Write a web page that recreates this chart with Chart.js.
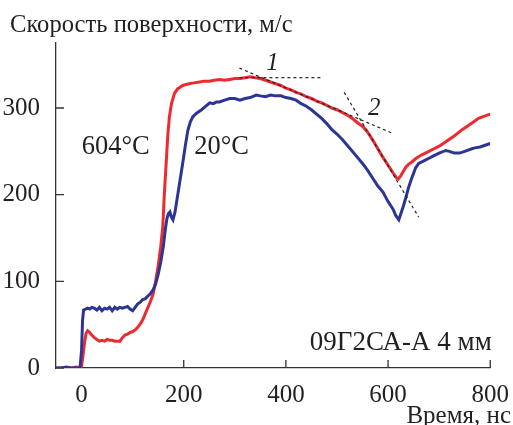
<!DOCTYPE html>
<html>
<head>
<meta charset="utf-8">
<script src="https://cdn.jsdelivr.net/npm/chart.js@4/dist/chart.umd.min.js"></script>
<style>
  html, body { margin: 0; padding: 0; background: #fff; }
  #wrap { width: 513px; height: 425px; }
</style>
</head>
<body>
<div id="wrap"><canvas id="chart" width="513" height="425"></canvas></div>
<script>
// time (ns), surface velocity (m/s)
const red604 = [
  [-50,0],[-40,0],[-30,0],[-20,0],[-10,1],[-2,0],[0,2],[3,15],[6,30],[9,40],[12,43],[16,41],[20,38],
  [25,35],[30,33],[35,31],[40,32],[45,31],[50,33],[55,32],[60,32],[65,31],[70,31],[75,31],[80,35],
  [85,38],[90,39],[95,41],[100,42],[105,44],[110,47],[115,51],[120,56],[125,63],[130,70],[135,77],
  [140,85],[145,100],[150,118],[155,140],[159,163],[162,200],[166,240],[169,270],[172,290],[176,305],
  [182,317],[188,322],[198,326],[210,328],[220,329],[231,330],[240,331],[250,331],[260,332],
  [270,333],[280,332],[290,333],[300,334],[310,334],[320,335],[330,336],[340,335],[350,334],[360,332],
  [370,330],[380,328],[390,326],[400,323],[410,321],[420,318],[430,316],[440,313],[450,311],[460,308],
  [470,306],[480,303],[490,300],[500,298],[510,295],[520,292],[530,288],[540,283],[550,279],[560,272],
  [570,263],[580,253],[590,243],[600,234],[610,225],[617,219],[620,218],[625,222],[630,227],[635,232],
  [640,235],[647,238],[655,242],[666,246],[680,250],[690,253],[700,256],[713,261],[720,264],[730,268],
  [745,275],[755,279],[765,283],[777,288],[790,291],[800,293]
];
const blue20 = [
  [-50,0],[-40,0],[-30,1],[-20,0],[-10,0],[-3,0],[0,20],[2,55],[4,67],[8,68],[12,69],[16,68],[20,70],
  [25,69],[30,67],[35,70],[40,66],[45,69],[50,68],[55,70],[60,66],[65,70],[70,68],[75,70],[80,69],
  [85,70],[90,71],[95,68],[100,66],[105,70],[110,74],[115,76],[120,79],[125,80],[130,83],[135,86],
  [140,90],[145,97],[150,108],[155,122],[160,140],[164,160],[167,172],[170,178],[173,180],[176,174],
  [179,171],[183,180],[187,195],[191,210],[195,225],[199,240],[203,256],[208,274],[213,284],[218,290],
  [225,294],[235,298],[245,303],[251,306],[258,305],[264,307],[270,307],[280,309],
  [290,311],[300,311],[310,309],[320,311],[330,312],[342,315],[350,314],[360,313],[370,315],[380,314],
  [390,314],[400,312],[410,311],[420,309],[430,305],[440,302],[450,298],[460,293],[470,288],[480,282],
  [490,275],[500,270],[510,264],[520,257],[530,250],[540,243],[550,236],[560,228],[570,219],[580,210],
  [590,203],[600,192],[610,183],[615,176],[621,171],[625,178],[630,187],[635,197],[640,208],[645,217],
  [654,231],[660,236],[670,239],[680,242],[690,245],[700,248],[713,251],[720,250],[730,248],[740,248],
  [750,250],[764,253],[770,254],[780,255],[790,257],[800,259]
];
// dashed tangent lines
const plateauLine = [[309,335],[469,335]];
const tangent1 = [[309,346],[608,271]];
const tangent2 = [[514,318],[660,174]];

const xTicks = [0, 200, 400, 600, 800];
const yTicks = [0, 100, 200, 300];

// text labels in data coords (baseline position)
const notes = [
  { text: "604°C", x: 67, y: 247, size: 26.5, align: "center", italic: false },
  { text: "20°C", x: 274, y: 247, size: 26.5, align: "center", italic: false },
  { text: "1", x: 374, y: 344, size: 25, align: "center", italic: true },
  { text: "2", x: 573, y: 292, size: 25, align: "center", italic: true },
  { text: "09Г2СА-А 4 мм", x: 803, y: 21, size: 27, align: "right", italic: false }
];

const FONT = "'Liberation Serif', 'Times New Roman', serif";
const INK = "#231f20";

const toXY = arr => arr.map(p => ({ x: p[0], y: p[1] }));

const dashed = data => ({
  data: toXY(data),
  borderColor: "#222",
  borderWidth: 1.2,
  borderDash: [3, 3],
  pointRadius: 0
});

const extras = {
  id: "extras",
  beforeDatasetsDraw(chart) {
    const ctx = chart.ctx;
    const xs = chart.scales.x, ys = chart.scales.y;
    ctx.save();
    ctx.strokeStyle = "#333";
    ctx.lineWidth = 1.3;
    ctx.beginPath();
    xTicks.forEach(v => {
      const px = xs.getPixelForValue(v);
      ctx.moveTo(px, ys.bottom);
      ctx.lineTo(px, ys.bottom - 8);
    });
    yTicks.forEach(v => {
      const py = ys.getPixelForValue(v);
      ctx.moveTo(xs.left, py);
      ctx.lineTo(xs.left + 8, py);
    });
    ctx.stroke();
    ctx.restore();
  },
  afterDraw(chart) {
    const ctx = chart.ctx;
    const xs = chart.scales.x, ys = chart.scales.y;
    ctx.save();
    ctx.fillStyle = INK;
    ctx.textBaseline = "alphabetic";
    notes.forEach(n => {
      ctx.font = (n.italic ? "italic " : "") + n.size + "px " + FONT;
      ctx.textAlign = n.align;
      ctx.fillText(n.text, xs.getPixelForValue(n.x), ys.getPixelForValue(n.y));
    });
    ctx.font = "24.6px " + FONT;
    ctx.textAlign = "left";
    ctx.fillText("Скорость поверхности, м/с", 10, 32);
    ctx.font = "25px " + FONT;
    ctx.textAlign = "right";
    ctx.fillText("Время, нс", 511, 423);
    ctx.restore();
  }
};

new Chart(document.getElementById("chart"), {
  type: "line",
  data: {
    datasets: [
      dashed(plateauLine),
      dashed(tangent1),
      dashed(tangent2),
      { label: "20°C", data: toXY(blue20), borderColor: "#2c3593", borderWidth: 3, pointRadius: 0 },
      { label: "604°C", data: toXY(red604), borderColor: "#ec2a30", borderWidth: 3, pointRadius: 0 }
    ]
  },
  options: {
    responsive: false,
    animation: false,
    layout: { padding: { left: 0, right: 21, top: 43, bottom: 0 } },
    plugins: { legend: { display: false }, tooltip: { enabled: false } },
    scales: {
      x: {
        type: "linear",
        min: -50,
        max: 800,
        afterBuildTicks: s => { s.ticks = xTicks.map(v => ({ value: v })); },
        afterFit: s => { s.height = 57; },
        grid: { display: false },
        border: { color: "#333", width: 1.3 },
        ticks: { font: { family: FONT, size: 25 }, color: INK, padding: 4, maxRotation: 0 }
      },
      y: {
        min: 0,
        max: 375,
        afterBuildTicks: s => { s.ticks = yTicks.map(v => ({ value: v })); },
        afterFit: s => { s.width = 56; },
        grid: { display: false },
        border: { color: "#333", width: 1.3 },
        ticks: { font: { family: FONT, size: 25 }, color: INK, padding: 8 }
      }
    }
  },
  plugins: [extras]
});
</script>
</body>
</html>
